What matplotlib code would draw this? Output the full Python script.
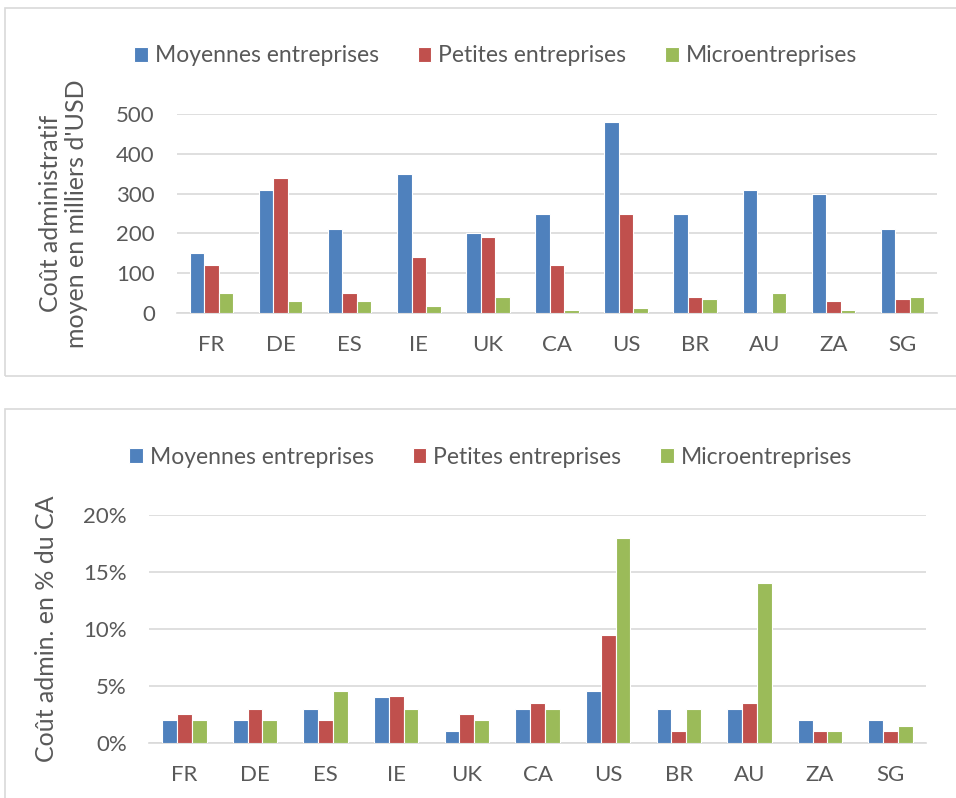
import matplotlib
matplotlib.use("Agg")
import matplotlib.pyplot as plt
from matplotlib.patches import Rectangle
from matplotlib.ticker import FuncFormatter
import numpy as np

plt.rcParams['font.family'] = ['Lato', 'DejaVu Sans']

countries = ["FR", "DE", "ES", "IE", "UK", "CA", "US", "BR", "AU", "ZA", "SG"]
series_names = ["Moyennes entreprises", "Petites entreprises", "Microentreprises"]
colors = ["#4F81BD", "#C0504D", "#9BBB59"]

# Top chart: average admin cost, thousands of USD
cost_medium = [150, 310, 210, 350, 200, 250, 480, 250, 310, 300, 210]
cost_small = [120, 340, 50, 140, 190, 120, 250, 40, 0, 30, 35]
cost_micro = [50, 30, 30, 18, 40, 8, 13, 34, 50, 8, 40]

# Bottom chart: admin cost in % of turnover
pct_medium = [2.0, 2.0, 3.0, 4.0, 1.0, 3.0, 4.5, 3.0, 3.0, 2.0, 2.0]
pct_small = [2.5, 3.0, 2.0, 4.1, 2.5, 3.5, 9.5, 1.0, 3.5, 1.0, 1.0]
pct_micro = [2.0, 2.0, 4.5, 3.0, 2.0, 3.0, 18.0, 3.0, 14.0, 1.0, 1.5]

W, H = 956, 798
fig = plt.figure(figsize=(W / 100, H / 100), dpi=100)
TXT = "#595959"
GRID = "#D9D9D9"
FS_TICK = 16
FS_LEG = 16.5
FS_LAB = 18


def px_axes(x0, y0, x1, y1):
    return fig.add_axes([x0 / W, 1 - y1 / H, (x1 - x0) / W, (y1 - y0) / H])


# chart frames
fig.patches.append(Rectangle((5 / W, 1 - 376 / H), 960 / W, 368 / H, transform=fig.transFigure,
                             fill=False, edgecolor=GRID, linewidth=1.2))
fig.patches.append(Rectangle((5 / W, 1 - 810 / H), 960 / W, 401 / H, transform=fig.transFigure,
                             fill=False, edgecolor=GRID, linewidth=1.2))


def draw(ax, data, ymax, step, fmt):
    x = np.arange(len(countries))
    bw = 0.21
    for i, (vals, c, name) in enumerate(zip(data, colors, series_names)):
        ax.bar(x + (i - 1) * bw, vals, width=bw, color=c, edgecolor="white",
               linewidth=0.8, label=name, zorder=3)
    ax.set_xlim(-0.5, len(countries) - 0.5)
    ax.set_ylim(0, ymax)
    ax.set_yticks(np.arange(0, ymax + step / 2, step))
    ax.yaxis.set_major_formatter(FuncFormatter(fmt))
    ax.set_xticks(x)
    ax.set_xticklabels(countries)
    ax.grid(axis="y", color=GRID, linewidth=1.2, zorder=0)
    for s in ["top", "right", "left"]:
        ax.spines[s].set_visible(False)
    ax.spines["bottom"].set_color(GRID)
    ax.spines["bottom"].set_linewidth(1.2)
    ax.tick_params(axis="both", length=0, colors=TXT, labelsize=FS_TICK)
    ax.tick_params(axis="x", pad=16)
    ax.tick_params(axis="y", pad=16)


def legend(ax, cx, cy):
    ax.legend(loc="center", bbox_to_anchor=(cx / W, 1 - cy / H), bbox_transform=fig.transFigure,
              ncol=3, frameon=False, fontsize=FS_LEG, labelcolor=TXT, handlelength=0.6,
              handleheight=0.6, handletextpad=0.3, columnspacing=1.7, borderpad=0)


ax1 = px_axes(177, 114.3, 937, 312.7)
draw(ax1, [cost_medium, cost_small, cost_micro], 500, 100, lambda v, p: f"{int(v)}")
ax1.set_ylabel("Coût administratif\nmoyen en milliers d'USD", color=TXT, fontsize=FS_LAB,
               labelpad=20, linespacing=1.2)
legend(ax1, 495.5, 56)

ax2 = px_axes(149, 515, 926, 742.7)
draw(ax2, [pct_medium, pct_small, pct_micro], 20, 5, lambda v, p: f"{int(v)}%")
ax2.set_ylabel("Coût admin. en % du CA", color=TXT, fontsize=FS_LAB, labelpad=18)
legend(ax2, 490.5, 457)

fig.savefig("out.png", dpi=100, facecolor="white")
